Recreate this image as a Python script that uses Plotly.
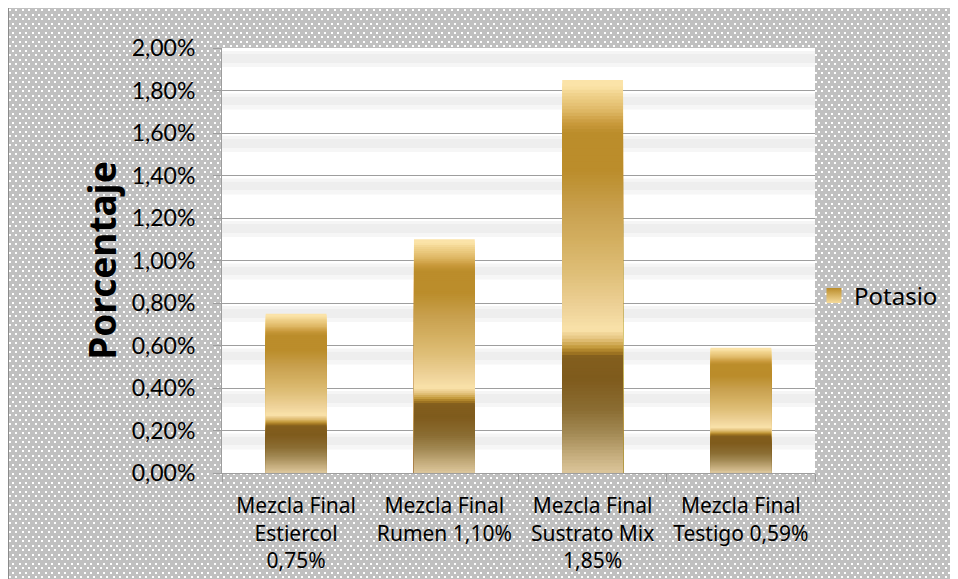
import zlib, struct, base64
import plotly.graph_objects as go

# ---- data ----
categories = ["Mezcla Final<br>Estiercol<br>0,75%",
              "Mezcla Final<br>Rumen 1,10%",
              "Mezcla Final<br>Sustrato Mix<br>1,85%",
              "Mezcla Final<br>Testigo 0,59%"]
potasio = [0.0075, 0.0110, 0.0185, 0.0059]
series_name = "Potasio"
y_ticks = [0.000, 0.002, 0.004, 0.006, 0.008, 0.010, 0.012, 0.014, 0.016, 0.018, 0.020]

# ---- styling ----
# the page body has an 8px margin, so figure coords = screen coords - 8
W, H = 958, 579
ML, MT = 214, 40
MR = W - (815 - 8)
MB = H - (473 - 8)
PW, PH = W - ML - MR, H - MT - MB
YMAX = 0.02

grad_stops = [
    (0.000, "#FBE3A8"), (0.017, "#FBE3A8"), (0.033, "#F2D590"), (0.076, "#E0BA68"),
    (0.110, "#C99A3C"), (0.135, "#BB8D2B"), (0.230, "#BB8D2B"), (0.330, "#C8A04E"),
    (0.415, "#D4B062"), (0.500, "#E0C07A"), (0.585, "#EFD39A"), (0.636, "#F9E2AA"),
    (0.654, "#E8C987"), (0.667, "#D8B464"), (0.680, "#C49A3C"), (0.692, "#A67A22"),
    (0.705, "#835E1E"), (0.760, "#7F5B1C"), (0.840, "#8B6D33"), (0.900, "#A38A55"),
    (0.960, "#C8B080"), (1.000, "#DCC69C"),
]


def hex2rgb(h):
    h = h.lstrip("#")
    return [int(h[i:i + 2], 16) for i in (0, 2, 4)]


def grad_color(t):
    for (t0, c0), (t1, c1) in zip(grad_stops[:-1], grad_stops[1:]):
        if t <= t1:
            f = 0 if t1 == t0 else (t - t0) / (t1 - t0)
            a, b = hex2rgb(c0), hex2rgb(c1)
            return "rgb(%d,%d,%d)" % tuple(round(a[i] + (b[i] - a[i]) * f) for i in range(3))
    return grad_stops[-1][1]


def make_png(w, h):
    gray = bytes([0xC0, 0xC0, 0xC0])
    white = b"\xff\xff\xff"
    line = bytes([0x8C, 0x8C, 0x8C])
    rows = []
    for y in range(h):
        row = bytearray(b"\x00")
        yy = (y + 3) % 9
        if yy < 2:
            shift = 0
        elif 4 <= yy < 6:
            shift = 3
        else:
            shift = None
        for x in range(w):
            if x == 0:
                c = line
            elif shift is None:
                c = gray
            else:
                xx = (x + 2 - shift) % 13
                c = white if (xx < 2 or 6 <= xx < 8) else gray
            row += c
        rows.append(bytes(row))
    raw = b"".join(rows)

    def chunk(t, d):
        return struct.pack(">I", len(d)) + t + d + struct.pack(">I", zlib.crc32(t + d) & 0xFFFFFFFF)

    png = (b"\x89PNG\r\n\x1a\n" + chunk(b"IHDR", struct.pack(">IIBBBBB", w, h, 8, 2, 0, 0, 0))
           + chunk(b"IDAT", zlib.compress(raw, 9)) + chunk(b"IEND", b""))
    return "data:image/png;base64," + base64.b64encode(png).decode()


# ---- gradient bars: overlapping bars, each shorter one drawn on top ----
N = 120
xs, ys, cs = [], [], []
for k in range(N):
    for cat, v in zip(categories, potasio):
        xs.append(cat)
        ys.append(v * (1 - k / N))
        cs.append(grad_color((k + 0.5) / N))

fig = go.Figure()
fig.add_trace(go.Bar(x=xs, y=ys, width=0.41, marker=dict(color=cs, line=dict(width=0)),
                     showlegend=False, hoverinfo="skip"))
fig.add_trace(go.Scatter(x=[categories[0]], y=[None], name=series_name, mode="markers",
                         marker=dict(symbol="square", size=15, color="#BB8D2B",
                                     gradient=dict(type="vertical", color="#F6DC9E"),
                                     line=dict(width=0))))

# background shapes: white plot area + light bands below each gridline
px = YMAX / PH
shapes = [dict(type="rect", xref="paper", yref="paper", x0=0, x1=1, y0=0, y1=1,
               fillcolor="white", line=dict(width=0), layer="below")]
for g in y_ticks[1:]:
    for a, b, col in [(3, 6, "#F5F5F5"), (6, 15, "#EEEEEE"), (15, 19, "#F6F6F6")]:
        shapes.append(dict(type="rect", xref="paper", yref="y", x0=0, x1=1,
                           y0=g - b * px, y1=g - a * px, fillcolor=col,
                           line=dict(width=0), layer="below"))

fig.update_layout(
    template="none",
    width=W, height=H,
    margin=dict(l=ML, r=MR, t=MT, b=MB, pad=0),
    paper_bgcolor="white", plot_bgcolor="white",
    barmode="overlay",
    separators=",.",
    images=[dict(source=make_png(W, H), xref="paper", yref="paper",
                 x=-ML / PW, y=1 + MT / PH, sizex=W / PW, sizey=H / PH,
                 sizing="stretch", xanchor="left", yanchor="top", layer="below")],
    shapes=shapes,
    xaxis=dict(showgrid=False, showline=True, linecolor="#9E9E9E", linewidth=1,
               ticks="outside", tickson="boundaries", ticklen=8, tickcolor="#9E9E9E",
               tickangle=0,
               tickfont=dict(family="Noto Sans", size=21, color="black"),
               ticklabelstandoff=14, zeroline=False),
    yaxis=dict(range=[0, YMAX], tickvals=y_ticks, tickformat=".2%",
               showgrid=True, gridcolor="#9E9E9E", gridwidth=1,
               showline=True, linecolor="#9E9E9E", linewidth=1, zeroline=False,
               ticks="outside", ticklen=8, tickcolor="#9E9E9E",
               tickfont=dict(family="Lato", size=23, color="black"),
               ticklabelstandoff=13,
               title=dict(text="<b>Porcentaje</b>", standoff=3,
                          font=dict(family="Noto Sans", size=37, color="black"))),
    legend=dict(x=(814 - 8 - ML) / PW, y=(H - MB - (296 - 8)) / PH, xanchor="left", yanchor="middle",
                bgcolor="rgba(0,0,0,0)", font=dict(family="Noto Sans", size=24, color="black")),
)

fig.write_html("out.html")
